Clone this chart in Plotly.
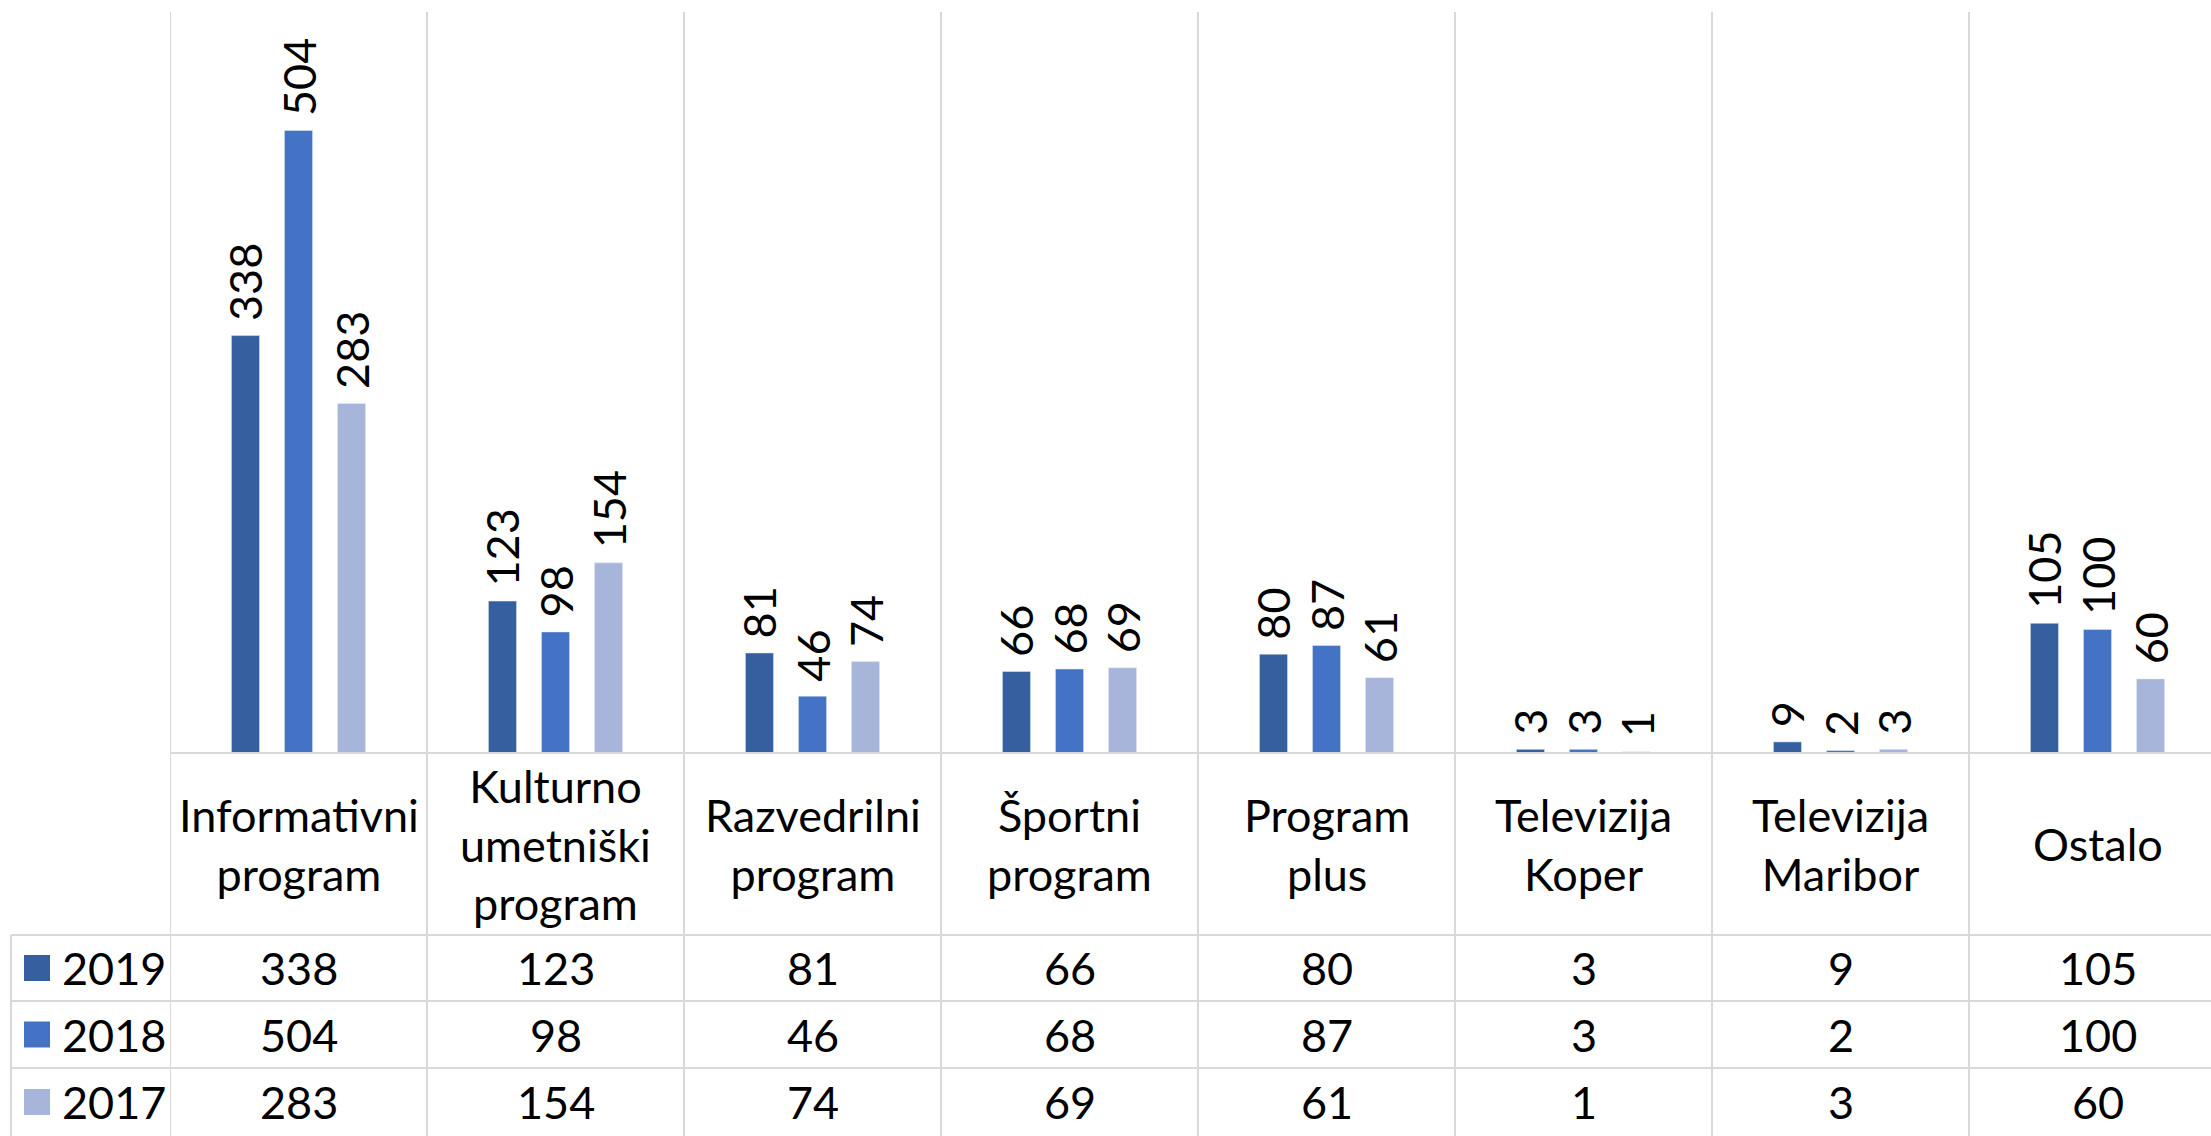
import plotly.graph_objects as go

categories = ["Informativni<br>program", "Kulturno<br>umetniški<br>program", "Razvedrilni<br>program",
              "Športni<br>program", "Program<br>plus", "Televizija<br>Koper", "Televizija<br>Maribor", "Ostalo"]
years = ["2019", "2018", "2017"]
values_2019 = [338, 123, 81, 66, 80, 3, 9, 105]
values_2018 = [504, 98, 46, 68, 87, 3, 2, 100]
values_2017 = [283, 154, 74, 69, 61, 1, 3, 60]
series = [values_2019, values_2018, values_2017]
colors = ["#365F9F", "#4472C4", "#A8B5DA"]

W, H = 2211, 1136
L, T, B = 170, 12, 753          # plot area in px
COLW = 257                      # width of one category column
ROWS = [935, 1001, 1068, 1136]  # table row borders
LEFT = 11
FONT = "Lato"
FS = 45
GRID = "#D9D9D9"


def py(p):
    return (B - p) / (B - T)


def pxx(p):
    return (p - L) / (W - L)


xs = list(range(len(categories)))

fig = go.Figure()
for name, vals, col in zip(years, series, colors):
    fig.add_trace(go.Bar(
        x=xs, y=vals, name=name, marker_color=col,
        text=vals, texttemplate="\u00a0%{y}", textposition="outside",
        textangle=-90, constraintext="none", cliponaxis=False,
        outsidetextfont=dict(family=FONT, size=FS, color="black"),
    ))

shapes = []
# vertical gridlines between categories, running through the table
for i in range(len(categories) + 1):
    shapes.append(dict(type="line", xref="x", yref="paper", x0=i - 0.5, x1=i - 0.5,
                       y0=py(H), y1=1, line=dict(color=GRID, width=2)))
# category axis line
shapes.append(dict(type="line", xref="paper", yref="paper", x0=0, x1=1, y0=0, y1=0,
                   line=dict(color=GRID, width=2)))
# table rows
for r in ROWS[:-1]:
    shapes.append(dict(type="line", xref="paper", yref="paper", x0=pxx(LEFT), x1=1,
                       y0=py(r), y1=py(r), line=dict(color=GRID, width=2)))
shapes.append(dict(type="line", xref="paper", yref="paper", x0=pxx(LEFT), x1=pxx(LEFT),
                   y0=py(ROWS[0]), y1=py(H), line=dict(color=GRID, width=2)))

annotations = []
txt_font = dict(family=FONT, size=FS, color="black")
for i, cat in enumerate(categories):
    annotations.append(dict(x=i, y=py((B + ROWS[0]) / 2), xref="x", yref="paper", text=cat,
                            yanchor="middle", showarrow=False, font=txt_font))
for k, (name, vals, col) in enumerate(zip(years, series, colors)):
    yc = py((ROWS[k] + ROWS[k + 1]) / 2)
    for i, v in enumerate(vals):
        annotations.append(dict(x=i, y=yc, xref="x", yref="paper", text=str(v), yanchor="middle",
                                showarrow=False, font=txt_font))
    annotations.append(dict(x=pxx(60), y=yc, xref="paper", yref="paper", text=name, xanchor="left",
                            yanchor="middle", showarrow=False, font=txt_font))
    shapes.append(dict(type="rect", xref="paper", yref="paper", x0=pxx(24), x1=pxx(50),
                       y0=yc - 13 / (B - T), y1=yc + 13 / (B - T), fillcolor=col, line=dict(width=0)))

fig.update_layout(
    width=W, height=H,
    margin=dict(l=L, r=0, t=T, b=H - B, pad=0),
    paper_bgcolor="white", plot_bgcolor="white",
    barmode="group", bargap=0.381, bargroupgap=0.47,
    showlegend=False,
    shapes=shapes, annotations=annotations,
    font=dict(family=FONT, size=FS, color="black"),
)
fig.update_xaxes(range=[-0.5, -0.5 + (W - L) / COLW], showticklabels=False, showgrid=False,
                 zeroline=False, showline=False, ticks="")
fig.update_yaxes(range=[0, 600], visible=False)

fig.write_html("out.html", config={"displayModeBar": False},
               post_script="document.body.style.margin='0';")
